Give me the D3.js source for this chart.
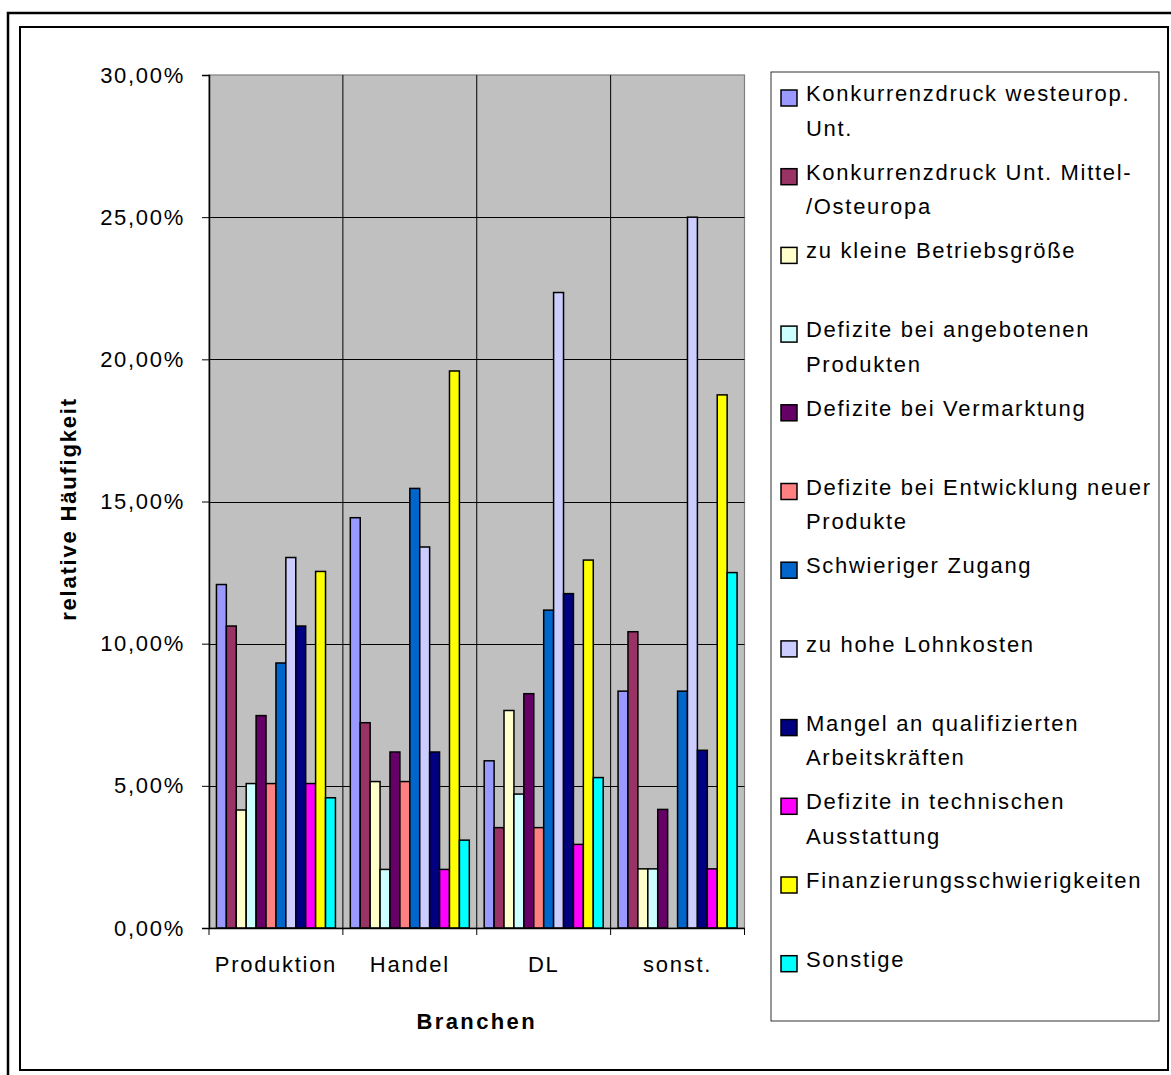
<!DOCTYPE html>
<html>
<head>
<meta charset="utf-8">
<script src="https://cdn.jsdelivr.net/npm/d3@7"></script>
<style>
  html, body { margin: 0; padding: 0; background: #ffffff; }
  svg { display: block; }
  text { font-family: "Liberation Sans", Arial, sans-serif; fill: #000; }
</style>
</head>
<body>
<svg id="chart" width="1171" height="1075"></svg>
<script>
// ---- data (relative frequency in %) ----
const categories = ["Produktion", "Handel", "DL", "sonst."];
const seriesNames = [
  "Konkurrenzdruck westeurop. Unt.",
  "Konkurrenzdruck Unt. Mittel-/Osteuropa",
  "zu kleine Betriebsgröße",
  "Defizite bei angebotenen Produkten",
  "Defizite bei Vermarktung",
  "Defizite bei Entwicklung neuer Produkte",
  "Schwieriger Zugang",
  "zu hohe Lohnkosten",
  "Mangel an qualifizierten Arbeitskräften",
  "Defizite in technischen Ausstattung",
  "Finanzierungsschwierigkeiten",
  "Sonstige"
];
const legendLines = [
  ["Konkurrenzdruck westeurop.", "Unt."],
  ["Konkurrenzdruck Unt. Mittel-", "/Osteuropa"],
  ["zu kleine Betriebsgröße"],
  ["Defizite bei angebotenen", "Produkten"],
  ["Defizite bei Vermarktung"],
  ["Defizite bei Entwicklung neuer", "Produkte"],
  ["Schwieriger Zugang"],
  ["zu hohe Lohnkosten"],
  ["Mangel an qualifizierten", "Arbeitskräften"],
  ["Defizite in technischen", "Ausstattung"],
  ["Finanzierungsschwierigkeiten"],
  ["Sonstige"]
];
const valuesProduktion = [12.08, 10.62, 4.15, 5.08, 7.47, 5.08, 9.32, 13.03, 10.62, 5.08, 12.54, 4.58];
const valuesHandel     = [14.43, 7.22, 5.15, 2.06, 6.19, 5.15, 15.46, 13.40, 6.19, 2.06, 19.59, 3.09];
const valuesDL         = [5.88, 3.53, 7.65, 4.71, 8.24, 3.53, 11.18, 22.35, 11.76, 2.94, 12.94, 5.29];
const valuesSonst      = [8.33, 10.42, 2.08, 2.08, 4.17, 0, 8.33, 25.00, 6.25, 2.08, 18.75, 12.50];
const yTicks = [0, 5, 10, 15, 20, 25, 30];
const seriesColors = ["#9999FF", "#993366", "#FFFFCC", "#CCFFFF", "#660066", "#FF8080",
                      "#0066CC", "#CCCCFF", "#000080", "#FF00FF", "#FFFF00", "#00FFFF"];
const yTitle = "relative Häufigkeit";
const xTitle = "Branchen";

const valuesByCategory = [valuesProduktion, valuesHandel, valuesDL, valuesSonst];

// ---- layout ----
const svg = d3.select("#chart");
const plot = { left: 209, right: 744.5, top: 75, bottom: 928 };
const FS = 22, LS = 1.7;

// frames
svg.append("path").attr("d", "M8,1080 L8,13 L1180,13")
  .attr("fill", "none").attr("stroke", "#000").attr("stroke-width", 2.5);
svg.append("rect").attr("x", 20).attr("y", 27).attr("width", 1148).attr("height", 1043)
  .attr("fill", "#fff").attr("stroke", "#000").attr("stroke-width", 2);

const x0 = d3.scaleBand().domain(categories).range([plot.left, plot.right]).padding(0);
const x1 = d3.scaleBand().domain(d3.range(seriesNames.length))
  .range([0, x0.bandwidth()]).paddingInner(0).paddingOuter(0.75);
const y = d3.scaleLinear().domain([0, 30]).range([plot.bottom, plot.top]);

// plot area
svg.append("rect").attr("x", plot.left).attr("y", plot.top)
  .attr("width", plot.right - plot.left).attr("height", plot.bottom - plot.top)
  .attr("fill", "#C0C0C0").attr("stroke", "#808080").attr("stroke-width", 1.2);

// horizontal gridlines
svg.append("g").selectAll("line").data(yTicks.filter(t => t > 0 && t < 30)).join("line")
  .attr("x1", plot.left).attr("x2", plot.right)
  .attr("y1", d => Math.round(y(d)) + 0.5).attr("y2", d => Math.round(y(d)) + 0.5)
  .attr("stroke", "#000").attr("stroke-width", 1);
// vertical category gridlines
svg.append("g").selectAll("line").data(categories.slice(1)).join("line")
  .attr("x1", d => x0(d)).attr("x2", d => x0(d))
  .attr("y1", plot.top).attr("y2", plot.bottom)
  .attr("stroke", "#000").attr("stroke-width", 1);

// bars
const groups = svg.append("g").selectAll("g").data(categories).join("g")
  .attr("transform", d => `translate(${x0(d)},0)`);
groups.selectAll("rect")
  .data((c, ci) => valuesByCategory[ci].map((v, si) => ({ v, si })))
  .join("rect")
  .filter(d => d.v > 0)
  .attr("x", d => x1(d.si))
  .attr("y", d => y(d.v))
  .attr("width", x1.bandwidth())
  .attr("height", d => y(0) - y(d.v))
  .attr("fill", d => seriesColors[d.si])
  .attr("stroke", "#000").attr("stroke-width", 1.5);

// y axis
const loc = d3.formatLocale({ decimal: ",", thousands: ".", grouping: [3], currency: ["", "€"] });
const fmt = loc.format(".2f");
const yAxis = d3.axisLeft(y).tickValues(yTicks).tickSize(7).tickPadding(17)
  .tickFormat(d => fmt(d) + "%");
const gy = svg.append("g").attr("transform", `translate(${plot.left},0)`).call(yAxis);
gy.select(".domain").attr("stroke", "#000").attr("stroke-width", 1.5);
gy.selectAll(".tick line").attr("stroke", "#000");
gy.selectAll(".tick text").attr("font-size", FS).attr("letter-spacing", LS)
  .attr("font-family", "Liberation Sans, Arial, sans-serif").attr("fill", "#000")
  .attr("dy", "0.32em");

// x axis
const xAxis = d3.axisBottom(x0).tickSize(0).tickPadding(28);
const gx = svg.append("g").attr("transform", `translate(0,${plot.bottom})`).call(xAxis);
gx.select(".domain").attr("stroke", "#000").attr("stroke-width", 1.5);
gx.selectAll(".tick text").attr("font-size", FS).attr("letter-spacing", LS)
  .attr("font-family", "Liberation Sans, Arial, sans-serif").attr("fill", "#000");
// boundary tick marks
const bounds = categories.map(c => x0(c)).concat([plot.right]);
svg.append("g").selectAll("line").data(bounds).join("line")
  .attr("x1", d => d).attr("x2", d => d)
  .attr("y1", plot.bottom).attr("y2", plot.bottom + 7)
  .attr("stroke", "#000").attr("stroke-width", 1);

// axis titles
svg.append("text").attr("x", (plot.left + plot.right) / 2).attr("y", 1029)
  .attr("text-anchor", "middle").attr("font-size", FS).attr("font-weight", "bold")
  .attr("letter-spacing", 2.4).text(xTitle);
svg.append("text").attr("transform", "translate(76,509) rotate(-90)")
  .attr("text-anchor", "middle").attr("font-size", FS).attr("font-weight", "bold")
  .attr("letter-spacing", 1.8).text(yTitle);

// legend
svg.append("rect").attr("x", 771).attr("y", 72).attr("width", 388).attr("height", 949)
  .attr("fill", "#fff").attr("stroke", "#333").attr("stroke-width", 1);
const legendStep = 78.7, legendBase = 101;
const lg = svg.append("g").selectAll("g").data(seriesNames).join("g")
  .attr("transform", (d, i) => `translate(0,${legendBase + i * legendStep})`);
lg.append("rect").attr("x", 781).attr("y", -11).attr("width", 16).attr("height", 16)
  .attr("fill", (d, i) => seriesColors[i]).attr("stroke", "#000").attr("stroke-width", 1.5);
lg.each(function(d, i) {
  const g = d3.select(this);
  legendLines[i].forEach((line, li) => {
    g.append("text").attr("x", 806).attr("y", li * 34.5)
      .attr("font-size", FS).attr("letter-spacing", LS).text(line);
  });
});
</script>
</body>
</html>
